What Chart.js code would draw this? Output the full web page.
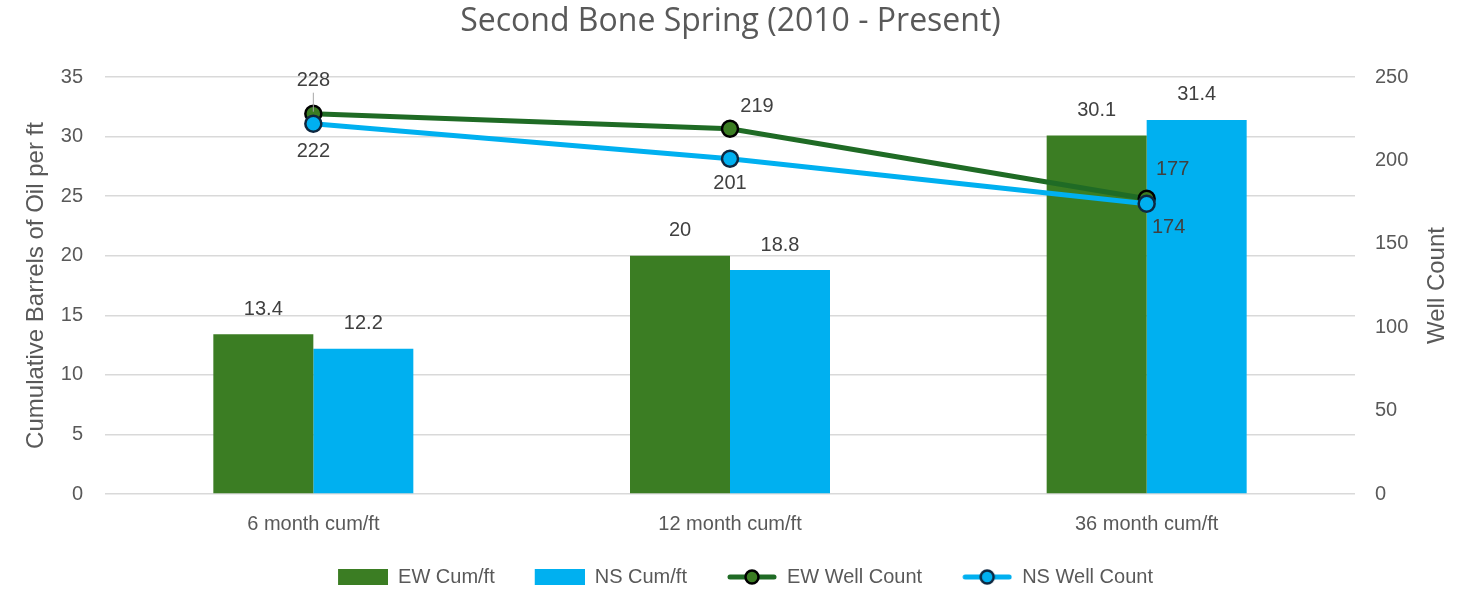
<!DOCTYPE html>
<html>
<head>
<meta charset="utf-8">
<script src="https://cdn.jsdelivr.net/npm/chart.js@4.4.1/dist/chart.umd.min.js"></script>
<style>
  html, body { margin: 0; padding: 0; background: #fff; }
  #wrap { width: 1461px; height: 599px; }
</style>
</head>
<body>
<div id="wrap"><canvas id="chart"></canvas></div>
<script>
var categories = ['6 month cum/ft', '12 month cum/ft', '36 month cum/ft'];
var ewCum = [13.4, 20, 30.1];
var nsCum = [12.2, 18.8, 31.4];
var ewWells = [228, 219, 177];
var nsWells = [222, 201, 174];

var GREEN = '#3B7D23';
var BLUE = '#00B0F0';
var DARKGREEN = '#1F6B25';
var NAVY = '#0E2841';
var GRAY = '#595959';
var FONT = '"Liberation Sans", Arial, sans-serif';

// legend icons: 30px empty on the left acts as spacing between items
function boxIcon(color) {
    var c = document.createElement('canvas');
    c.width = 80; c.height = 16;
    var g = c.getContext('2d');
    g.fillStyle = color;
    g.fillRect(30, 0, 50, 16);
    return c;
}
function lineIcon(lineColor, fill, border) {
    var c = document.createElement('canvas');
    c.width = 80; c.height = 20;
    var g = c.getContext('2d');
    g.strokeStyle = lineColor;
    g.lineWidth = 5;
    g.lineCap = 'round';
    g.beginPath(); g.moveTo(33, 10); g.lineTo(77, 10); g.stroke();
    g.beginPath(); g.arc(55, 10, 6.5, 0, Math.PI * 2);
    g.fillStyle = fill; g.fill();
    g.lineWidth = 2.5; g.strokeStyle = border; g.stroke();
    return c;
}
var legendIcons = [
    boxIcon(GREEN),
    boxIcon(BLUE),
    lineIcon(DARKGREEN, GREEN, '#000000'),
    lineIcon(BLUE, BLUE, NAVY)
];

// label offsets for the line values [dx, dy]
var ewOffsets = [[0, -33], [27, -22], [26, -29]];
var nsOffsets = [[0, 28], [0, 25], [22, 24]];

var valueLabels = {
    id: 'valueLabels',
    afterDatasetsDraw: function (chart) {
        var ctx = chart.ctx;
        ctx.save();
        // leader line on the first EW point
        var p0 = chart.getDatasetMeta(2).data[0];
        ctx.strokeStyle = '#A6A6A6';
        ctx.lineWidth = 1;
        ctx.beginPath(); ctx.moveTo(p0.x, p0.y - 21); ctx.lineTo(p0.x, p0.y - 2); ctx.stroke();

        ctx.font = '20px ' + FONT;
        ctx.fillStyle = '#404040';
        ctx.textAlign = 'center';
        ctx.textBaseline = 'middle';
        chart.data.datasets.forEach(function (ds, i) {
            var meta = chart.getDatasetMeta(i);
            meta.data.forEach(function (el, j) {
                var x = el.x, y = el.y;
                if (ds.type === 'line') {
                    var off = (i === 2 ? ewOffsets : nsOffsets)[j];
                    x += off[0]; y += off[1];
                } else {
                    y -= 25;
                }
                ctx.fillText(String(ds.data[j]), x, y);
            });
        });

        // right axis title, reading bottom to top
        var a = chart.chartArea;
        ctx.translate(1437, (a.top + a.bottom) / 2);
        ctx.rotate(-Math.PI / 2);
        ctx.font = '24px ' + FONT;
        ctx.fillStyle = GRAY;
        ctx.fillText('Well Count', 0, 0);
        ctx.restore();
    }
};

var ctx = document.getElementById('chart');
var chart = new Chart(ctx, {
    data: {
        labels: categories,
        datasets: [
            {
                type: 'bar',
                label: 'EW Cum/ft',
                data: ewCum,
                backgroundColor: GREEN,
                yAxisID: 'y',
                order: 3,
                barPercentage: 1,
                categoryPercentage: 0.48
            },
            {
                type: 'bar',
                label: 'NS Cum/ft',
                data: nsCum,
                backgroundColor: BLUE,
                yAxisID: 'y',
                order: 3,
                barPercentage: 1,
                categoryPercentage: 0.48
            },
            {
                type: 'line',
                label: 'EW Well Count',
                data: ewWells,
                borderColor: DARKGREEN,
                borderWidth: 5,
                backgroundColor: GREEN,
                pointBackgroundColor: GREEN,
                pointBorderColor: '#000000',
                pointBorderWidth: 2.5,
                pointRadius: 8,
                yAxisID: 'y1',
                order: 2
            },
            {
                type: 'line',
                label: 'NS Well Count',
                data: nsWells,
                borderColor: BLUE,
                borderWidth: 5,
                backgroundColor: BLUE,
                pointBackgroundColor: BLUE,
                pointBorderColor: NAVY,
                pointBorderWidth: 2.5,
                pointRadius: 8,
                yAxisID: 'y1',
                order: 1
            }
        ]
    },
    options: {
        responsive: true,
        maintainAspectRatio: false,
        animation: false,
        layout: { padding: { top: 0, bottom: 2, left: 0, right: 0 } },
        plugins: {
            title: {
                display: true,
                text: 'Second Bone Spring (2010 - Present)',
                color: GRAY,
                font: { size: 32, family: '"Open Sans", sans-serif', weight: 'normal' },
                padding: { top: 3, bottom: 35.6 }
            },
            legend: {
                position: 'bottom',
                labels: {
                    usePointStyle: true,
                    pointStyleWidth: 80,
                    boxHeight: 16,
                    padding: 10,
                    color: GRAY,
                    font: { size: 20, family: FONT },
                    generateLabels: function (chart) {
                        var items = Chart.defaults.plugins.legend.labels.generateLabels(chart);
                        items.forEach(function (it) { it.pointStyle = legendIcons[it.datasetIndex]; });
                        return items;
                    },
                    sort: function (a, b) { return a.datasetIndex - b.datasetIndex; }
                }
            },
            tooltip: { enabled: false }
        },
        scales: {
            x: {
                grid: { display: false, drawTicks: false },
                border: { display: false },
                ticks: {
                    color: GRAY,
                    padding: 18,
                    font: { size: 20, family: FONT }
                },
                afterFit: function (s) { s.height = 63; }
            },
            y: {
                position: 'left',
                min: 0, max: 35,
                ticks: {
                    stepSize: 5,
                    color: GRAY,
                    padding: 22,
                    font: { size: 20, family: FONT }
                },
                grid: { color: '#D9D9D9', lineWidth: 1.5, drawTicks: false },
                border: { display: false },
                title: {
                    display: true,
                    text: 'Cumulative Barrels of Oil per ft',
                    color: GRAY,
                    font: { size: 24, family: FONT },
                    padding: { top: 22, bottom: 0 }
                },
                afterFit: function (s) { s.width = 105; }
            },
            y1: {
                position: 'right',
                min: 0, max: 250,
                ticks: {
                    stepSize: 50,
                    color: GRAY,
                    padding: 20,
                    font: { size: 20, family: FONT }
                },
                grid: { display: false, drawTicks: false },
                border: { display: false },
                afterFit: function (s) { s.width = 106; }
            }
        }
    },
    plugins: [valueLabels]
});
</script>
</body>
</html>
